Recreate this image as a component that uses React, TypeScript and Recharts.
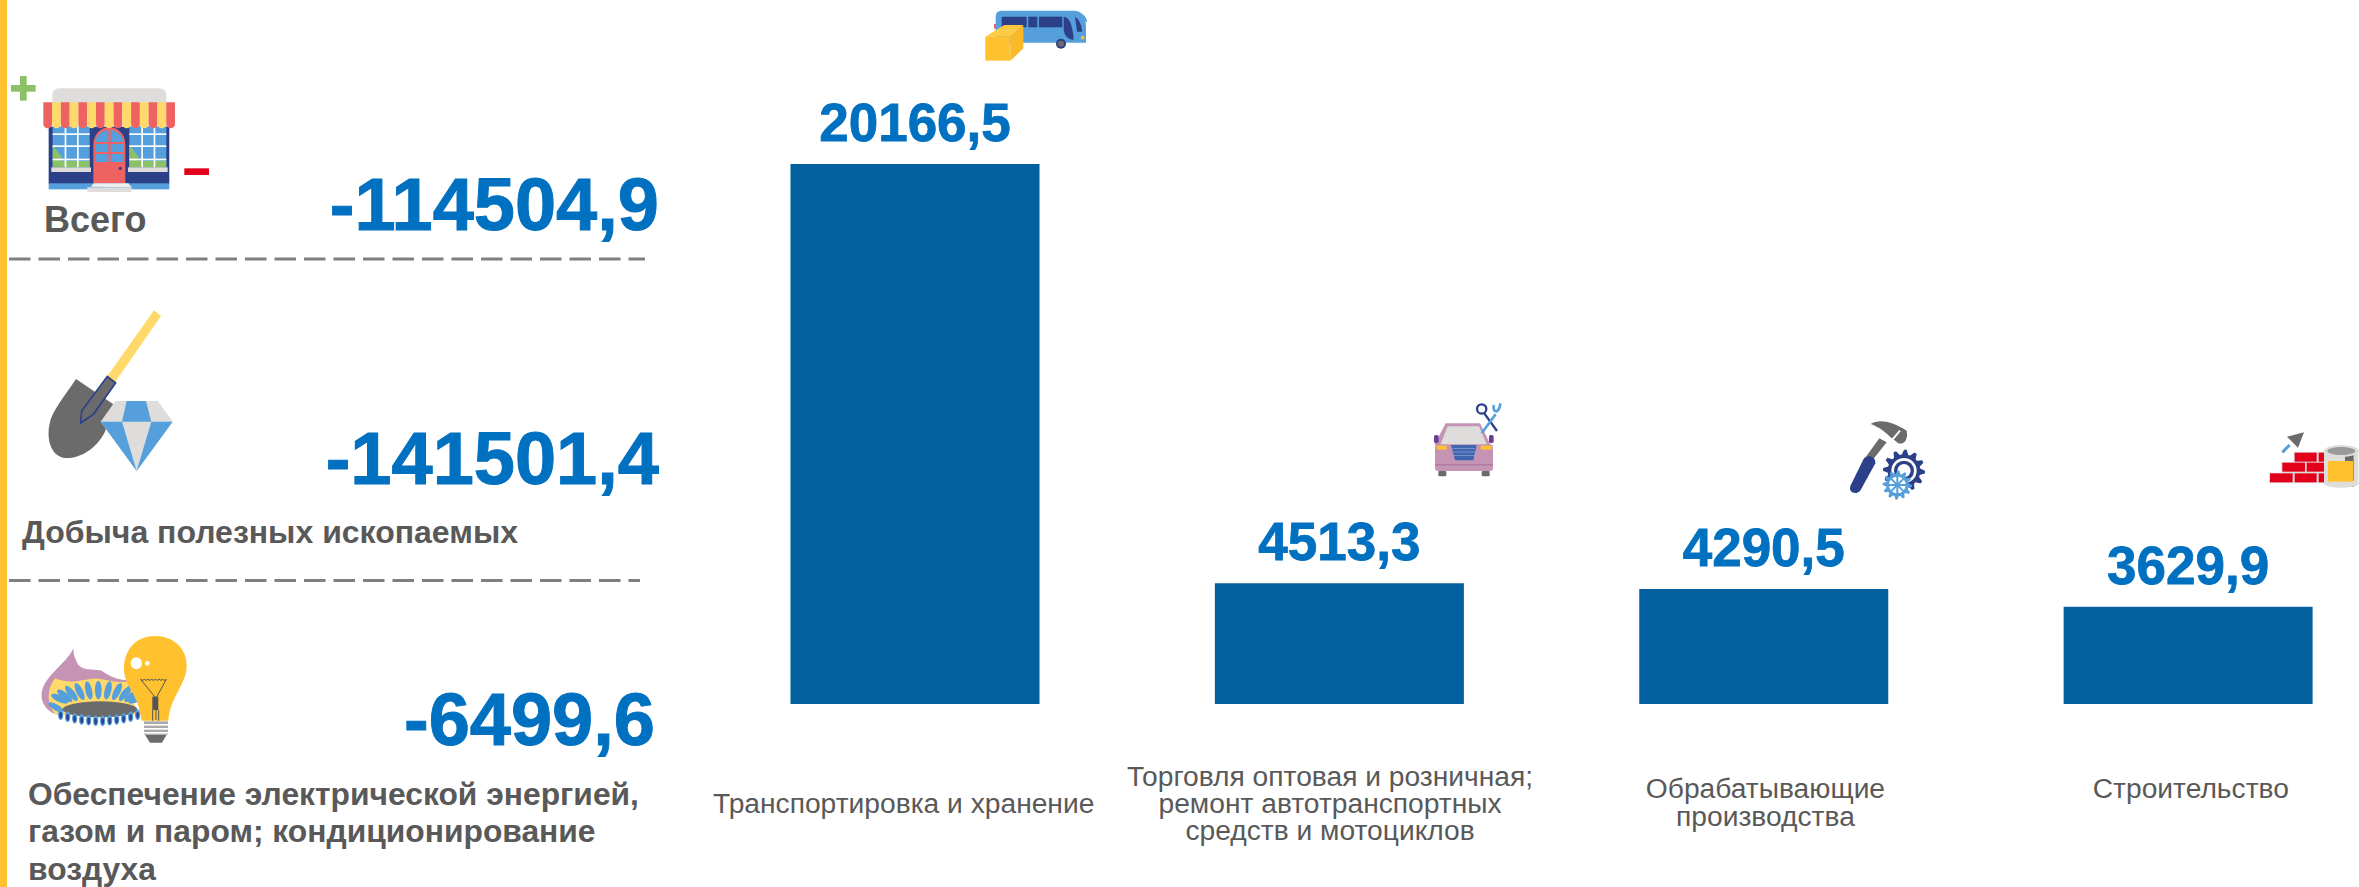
import React from "react";
import { BarChart, Bar, XAxis, YAxis, LabelList } from "recharts";

const sectors = ["Транспортировка и хранение", "Торговля оптовая и розничная; ремонт автотранспортных средств и мотоциклов", "Обрабатывающие производства", "Строительство"];
const sectorLines = [
  ["Транспортировка и хранение"],
  ["Торговля оптовая и розничная;", "ремонт автотранспортных", "средств и мотоциклов"],
  ["Обрабатывающие", "производства"],
  ["Строительство"],
];
const sectorValues = [20166.5, 4513.3, 4290.5, 3629.9];
const tickShift = [-11, -9, 2, 3];
const tickMid = [803, 803, 802, 788];

const leftValues = ["-114504,9", "-141501,4", "-6499,6"];
const leftBaselines = [230, 484, 745];
const leftTitles = [
  [{ t: "Всего", x: 44, y: 232, s: 36 }],
  [{ t: "Добыча полезных ископаемых", x: 22, y: 543, s: 32 }],
  [
    { t: "Обеспечение электрической энергией,", x: 28, y: 805, s: 31.8 },
    { t: "газом и паром; кондиционирование", x: 28, y: 842, s: 31.8 },
    { t: "воздуха", x: 28, y: 880, s: 31.8 },
  ],
];

const chartData = sectors.map((name, i) => ({ name, value: sectorValues[i], i }));
const FONT = "'Liberation Sans', Arial, sans-serif";
const NAVY = "#2B4088", BLUE = "#55A0DC", GREY = "#6B6B6B", LIGHT = "#DEDDDB", RED = "#EE6262", YEL = "#FFD96A", AMB = "#FFC12E", PINK = "#C594B4", GREEN = "#8CC168", BRICK = "#E3001B";
const fmt = (v: number) => String(v).replace(".", ",");

const CatTick = (p: any) => {
  const i = p.payload.index;
  const lines = sectorLines[i];
  const lh = 27.4;
  const first = tickMid[i] - ((lines.length - 1) * lh) / 2 + 10;
  return (
    <text textAnchor="middle" fontFamily={FONT} fontSize={28.2} fill="#595959">
      {lines.map((l, k) => (
        <tspan key={k} x={p.x + tickShift[i]} y={first + k * lh}>{l}</tspan>
      ))}
    </text>
  );
};

const ValueLabel = (p: any) => (
  <text x={p.x + p.width / 2} y={p.y - 23} textAnchor="middle" fontFamily={FONT} fontWeight="bold" fontSize={53} fill="#0070C0" stroke="#0070C0" strokeWidth={0.8}>
    {fmt(p.value)}
  </text>
);

function gear(cx: number, cy: number, r: number, teeth: number, d: number) {
  const pts: string[] = [];
  const n = teeth * 4;
  for (let k = 0; k < n; k++) {
    const a = (k / n) * Math.PI * 2;
    const rr = k % 4 < 2 ? r : r - d;
    pts.push(`${(cx + rr * Math.cos(a)).toFixed(1)},${(cy + rr * Math.sin(a)).toFixed(1)}`);
  }
  return pts.join(" ");
}

const Icon = ({ x, y, children }: any) => <g transform={`translate(${x} ${y}) scale(0.3333)`}>{children}</g>;

const Shop = () => {
  const stripes = Array.from({ length: 15 }, (_, k) => k);
  const w = 395 / 15;
  return (
    <Icon x={0} y={70}>
      <rect x={60} y={18} width={20} height={74} fill={GREEN} />
      <rect x={33} y={45} width={74} height={20} fill={GREEN} />
      <rect x={553} y={295} width={74} height={20} fill={BRICK} />
      <rect x={157} y={55} width={342} height={60} rx={20} fill={LIGHT} />
      <rect x={146} y={170} width={362} height={172} fill={NAVY} />
      <rect x={146} y={340} width={362} height={18} fill={BLUE} />
      {[158, 388].map((wx) => (
        <g key={wx}>
          <rect x={wx} y={170} width={111} height={122} fill={BLUE} />
          <path d={`M${wx} 275 V225 L${wx + 28} 262 L${wx + 28} 275 Z`} fill={GREEN} />
          <rect x={wx} y={273} width={111} height={19} fill={GREEN} />
          {[36, 73].map((o) => <rect key={o} x={wx + o} y={170} width={5} height={122} fill="#fff" />)}
          {[190, 226, 266].map((o) => <rect key={o} x={wx} y={o} width={111} height={5} fill="#fff" />)}
          <rect x={wx - 4} y={292} width={119} height={14} fill={LIGHT} />
        </g>
      ))}
      <path d="M280 340 V225 C280 190 305 172 328 172 C352 172 376 190 376 225 V340 Z" fill={RED} />
      <path d="M286 216 C288 195 305 182 325 180 V216 Z M332 180 C352 182 368 195 370 216 H332 Z" fill={BLUE} />
      <rect x={286} y={222} width={39} height={24} fill={BLUE} />
      <rect x={332} y={222} width={38} height={24} fill={BLUE} />
      <rect x={286} y={252} width={39} height={24} fill={BLUE} />
      <rect x={332} y={252} width={38} height={24} fill={BLUE} />
      <circle cx={361} cy={295} r={5} fill={NAVY} />
      <path d="M272 350 L282 340 H385 L395 352 Z" fill="#EFEFEF" />
      <rect x={262} y={352} width={133} height={14} fill={LIGHT} />
      {stripes.map((k) => (
        <path key={k} d={`M${130 + k * w} 97 h${w} v65 a${w / 2} 13 0 0 1 -${w} 0 Z`} fill={k % 2 ? YEL : RED} />
      ))}
    </Icon>
  );
};

const Shovel = () => (
  <Icon x={30} y={305}>
    <path d="M138 222 L250 298 L225 380 C195 440 135 465 100 458 C62 450 50 402 58 360 C65 318 100 280 138 222 Z" fill={GREY} />
    <polygon points="372,16 393,33 255,232 232,214" fill={YEL} />
    <polygon points="232,214 257,234 190,328 152,354 155,318" fill={GREY} stroke={NAVY} strokeWidth={5} />
    <polygon points="256,288 384,288 428,350 320,498 212,350" fill={LIGHT} />
    <polygon points="290,288 348,288 364,350 276,350" fill={BLUE} />
    <polygon points="212,350 276,350 320,498" fill={BLUE} />
    <polygon points="364,350 428,350 320,498" fill={BLUE} />
  </Icon>
);

const Bulb = () => {
  const n = Array.from({ length: 11 }, (_, k) => k);
  return (
    <Icon x={30} y={630}>
      <path d="M130 55 C120 85 70 120 45 160 C22 200 40 235 70 250 L300 250 L300 150 C270 152 240 140 215 122 C190 115 150 125 140 95 C132 80 130 70 130 55 Z" fill={PINK} />
      <path d="M75 145 C48 180 50 225 78 255 L320 255 L300 155 C260 160 240 150 205 146 C170 142 130 168 75 145 Z" fill={YEL} />
      {n.map((k) => {
        const a = -155 + k * 13;
        const cx = 205 + Math.cos((a * Math.PI) / 180) * 128;
        const cy = 225 + Math.sin((a * Math.PI) / 180) * 45;
        return <ellipse key={k} cx={cx} cy={cy} rx={10} ry={28} fill={BLUE} transform={`rotate(${a + 90} ${cx} ${cy})`} />;
      })}
      <ellipse cx={78} cy={232} rx={26} ry={9} fill={BLUE} transform="rotate(30 78 232)" />
      <ellipse cx={210} cy={238} rx={112} ry={24} fill={GREY} />
      {n.concat([11]).map((k) => {
        const x = 92 + k * 21;
        const y = 272 - Math.abs(k - 5.5) * Math.abs(k - 5.5) * 0.6;
        return (
          <g key={k}>
            <ellipse cx={x} cy={y} rx={8} ry={16} fill={BLUE} />
            <ellipse cx={x} cy={y + 2} rx={4} ry={10} fill={NAVY} />
          </g>
        );
      })}
      <path d="M375 18 C310 18 280 70 282 120 C284 170 325 190 335 272 L415 272 C420 200 472 160 470 105 C470 55 430 18 375 18 Z" fill={AMB} />
      <ellipse cx={319} cy={100} rx={17} ry={18} fill="#fff" />
      <circle cx={352} cy={100} r={7} fill="#fff" />
      <path d="M332 148 q6 6 11 0 q6 6 11 0 q6 6 11 0 q6 6 11 0 q6 6 11 0 q6 6 11 0 q6 6 11 0 L378 205 V270 M332 148 L378 205" fill="none" stroke="#555" strokeWidth={3} />
      <rect x={367} y={200} width={18} height={40} fill="#555" />
      <path d="M368 240 V272 M386 240 V272" stroke="#555" strokeWidth={3} />
      <rect x={342} y={274} width={72} height={40} fill="#AAAAAA" />
      {[282, 294, 306].map((y) => <rect key={y} x={342} y={y} width={72} height={5} fill="#fff" />)}
      <path d="M345 314 H410 L396 338 H360 Z" fill={GREY} />
    </Icon>
  );
};

const Bus = () => (
  <Icon x={975} y={0}>
    <path d="M62 50 Q62 32 80 32 H300 Q333 36 333 80 V128 H62 Z" fill={BLUE} />
    <path d="M305 42 Q332 42 334 66" fill="none" stroke={BLUE} strokeWidth={5} />
    <rect x={80} y={50} width={75} height={32} rx={3} fill={NAVY} />
    <rect x={160} y={50} width={27} height={32} fill={NAVY} />
    <rect x={192} y={50} width={70} height={32} fill={NAVY} />
    <path d="M266 50 Q292 52 296 120 Q270 118 266 90 Z" fill={NAVY} />
    <path d="M300 50 Q318 60 322 95 H306 Z" fill={NAVY} />
    <rect x={318} y={108} width={10} height={10} fill={AMB} />
    <rect x={57} y={72} width={6} height={14} fill={RED} />
    <circle cx={258} cy={131} r={15} fill={NAVY} />
    <circle cx={258} cy={131} r={9} fill={GREY} />
    <polygon points="31,110 88,75 145,75 107,110" fill="#FFC93F" />
    <rect x={31} y={110} width={76} height={72} fill={AMB} />
    <polygon points="107,110 145,75 145,145 107,182" fill="#FBB928" />
    <path d="M60 92 L118 92 M74 84 L55 110" stroke={YEL} strokeWidth={2} />
  </Icon>
);

const Car = () => (
  <Icon x={1425} y={395}>
    <path d="M62 85 H165 L197 150 H28 Z" fill={PINK} />
    <path d="M68 94 H162 L186 150 H46 Z" fill={LIGHT} />
    <rect x={30} y={148} width={174} height={80} rx={10} fill={PINK} />
    <rect x={27} y={120} width={14} height={24} rx={5} fill="#6B3D94" />
    <rect x={192} y={120} width={14} height={24} rx={5} fill="#6B3D94" />
    <rect x={35} y={152} width={30} height={12} fill={AMB} />
    <rect x={167} y={152} width={33} height={12} fill={AMB} />
    <polygon points="78,150 155,150 145,196 90,196" fill="#3F66AE" />
    {[160, 170, 180].map((y) => <rect key={y} x={82} y={y} width={68} height={2} fill="#8FA6D2" />)}
    <rect x={30} y={208} width={174} height={3} fill="#A5709A" />
    <rect x={40} y={228} width={24} height={16} rx={3} fill={GREY} />
    <rect x={170} y={228} width={24} height={16} rx={3} fill={GREY} />
    <path d="M178 55 L216 108" stroke={NAVY} strokeWidth={7} />
    <circle cx={170} cy={42} r={14} fill="none" stroke={NAVY} strokeWidth={7} />
    <path d="M170 115 L212 58" stroke={BLUE} strokeWidth={8} />
    <path d="M207 30 C200 50 222 62 226 25" fill="none" stroke={BLUE} strokeWidth={8} />
  </Icon>
);

const Hammer = () => (
  <Icon x={1840} y={410}>
    <path d="M92 42 C115 28 150 30 200 62 C205 85 195 105 175 100 L150 80 C130 60 110 48 92 42 Z" fill={GREY} />
    <rect x={166} y={58} width={6} height={34} fill="#fff" transform="rotate(40 169 75)" />
    <polygon points="118,85 140,97 98,150 78,140" fill={GREY} />
    <path d="M72 145 C85 132 108 140 106 160 L62 240 C50 258 22 248 32 226 Z" fill={NAVY} />
    <polygon points={gear(192, 182, 63, 12, 14)} fill={NAVY} />
    <circle cx={192} cy={182} r={38} fill="#fff" />
    <circle cx={192} cy={182} r={30} fill={NAVY} />
    <circle cx={192} cy={182} r={20} fill="#fff" />
    <polygon points={gear(172, 225, 44, 12, 10)} fill={BLUE} />
    <circle cx={172} cy={225} r={25} fill="#fff" />
    {[0, 45, 90, 135].map((a) => (
      <rect key={a} x={144} y={222} width={56} height={6} fill={BLUE} transform={`rotate(${a} 172 225)`} />
    ))}
  </Icon>
);

const Bricks = () => {
  const rows = [
    [107, 83, 66], [179, 83, 16],
    [70, 113, 68], [143, 113, 52],
    [33, 145, 68], [107, 145, 66], [179, 145, 16],
  ];
  return (
    <Icon x={2259} y={425}>
      <path d="M30 175 V143 H67 V111 H104 V80 H198 V175 Z" fill="#DDDDDD" />
      {rows.map(([x, y, w], k) => <rect key={k} x={x} y={y} width={w} height={27} fill={BRICK} />)}
      <polygon points="84,35 135,22 117,68" fill={GREY} />
      <path d="M70 82 L92 60" stroke={BLUE} strokeWidth={9} />
      <rect x={195} y={78} width={103} height={98} fill={LIGHT} />
      <rect x={258} y={78} width={26} height={108} fill={GREY} />
      <ellipse cx={247} cy={176} rx={52} ry={12} fill={LIGHT} />
      <rect x={207} y={108} width={75} height={62} fill={AMB} />
      <ellipse cx={247} cy={78} rx={53} ry={18} fill={LIGHT} />
      <ellipse cx={247} cy={78} rx={42} ry={12} fill="#999999" />
    </Icon>
  );
};

export default function App() {
  return (
    <div style={{ position: "absolute", left: 0, top: 0, width: 2359, height: 887, overflow: "hidden", background: "#fff" }}>
      <div style={{ position: "absolute", left: 0, top: 0 }}>
        <BarChart width={2400} height={887} data={chartData} margin={{ top: 34.5, right: 0, bottom: 0, left: 702.5 }}>
          <YAxis hide domain={[0, 25000]} />
          <XAxis dataKey="name" axisLine={false} tickLine={false} height={183} interval={0} tick={<CatTick />} />
          <Bar dataKey="value" fill="#02609E" barSize={249} isAnimationActive={false}>
            <LabelList dataKey="value" content={<ValueLabel />} />
          </Bar>
        </BarChart>
      </div>
      <svg width={2359} height={887} style={{ position: "absolute", left: 0, top: 0, pointerEvents: "none" }}>
        <rect x={0} y={0} width={7} height={887} fill="#FFC12E" />
        <line x1={9} x2={645} y1={259} y2={259} stroke="#7F7F7F" strokeWidth={3} strokeDasharray="21.5 8" />
        <line x1={9} x2={640} y1={580.5} y2={580.5} stroke="#7F7F7F" strokeWidth={3} strokeDasharray="21.5 8" />
        {leftValues.map((v, i) => (
          <text key={v} x={[659, 659, 655][i]} y={leftBaselines[i]} textAnchor="end" fontFamily={FONT} fontWeight="bold" fontSize={74} fill="#0070C0" stroke="#0070C0" strokeWidth={1}>{v}</text>
        ))}
        {leftTitles.flat().map((l) => (
          <text key={l.t} x={l.x} y={l.y} fontFamily={FONT} fontWeight="bold" fontSize={l.s} fill="#595959">{l.t}</text>
        ))}
        <Shop /><Shovel /><Bulb /><Bus /><Car /><Hammer /><Bricks />
      </svg>
    </div>
  );
}
